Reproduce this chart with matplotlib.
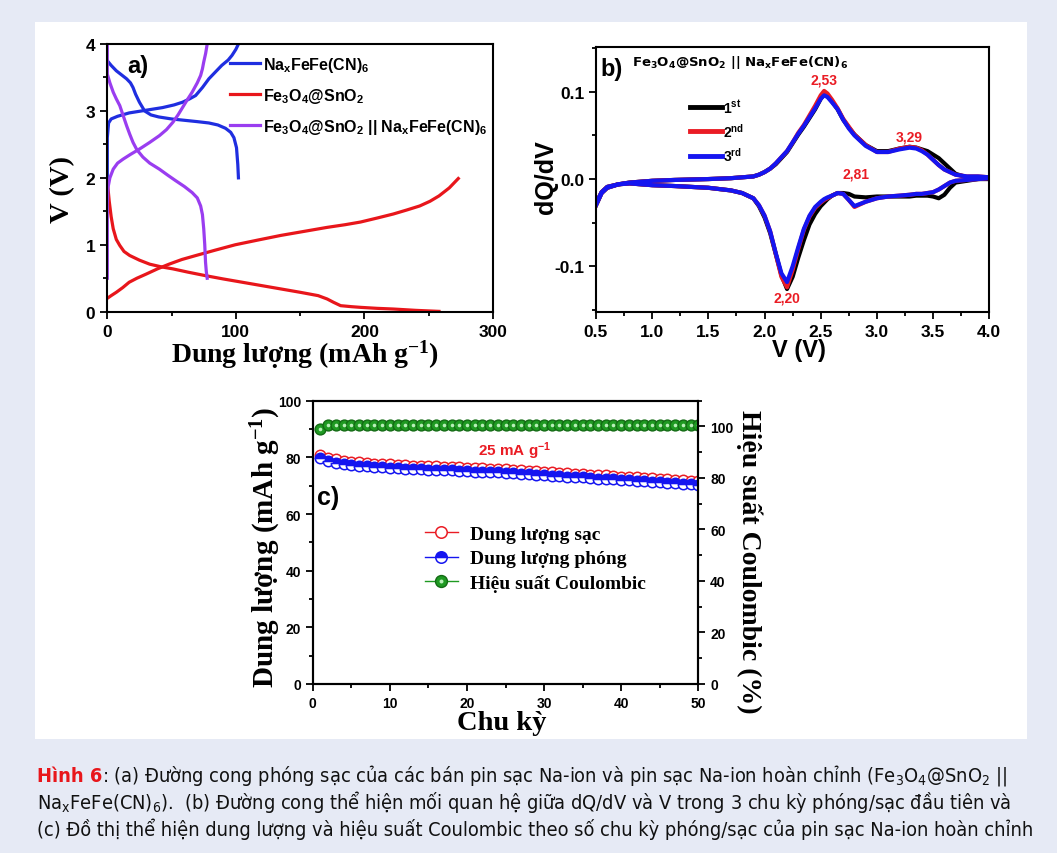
import numpy as np
import matplotlib
matplotlib.use('Agg')
import matplotlib.pyplot as plt
from matplotlib import font_manager as fm
from matplotlib.ft2font import FT2Font
from matplotlib.patches import Rectangle
from matplotlib.ticker import MultipleLocator, FormatStrFormatter
from matplotlib.legend_handler import HandlerTuple

# ---------------- data: panel a (capacity mAh/g, voltage V) ----------------
nafe_ch_cap = [0, 0, 1, 3, 8, 17, 30, 43, 52, 58.5, 64, 68.7, 74, 79, 84, 89, 94, 97, 100, 102]
nafe_ch_v = [2.0, 2.6, 2.82, 2.88, 2.92, 2.97, 3.01, 3.05, 3.09, 3.13, 3.18, 3.23, 3.35, 3.48, 3.58, 3.68, 3.76, 3.83, 3.92, 4.0]
nafe_dis_cap = [0, 3, 7, 11, 15, 18, 20, 22, 25, 29, 34, 40, 50, 60, 70, 79, 86, 92, 96, 98.5, 100.5, 101.5, 102]
nafe_dis_v = [3.75, 3.68, 3.6, 3.54, 3.48, 3.42, 3.35, 3.25, 3.13, 3.0, 2.94, 2.91, 2.88, 2.86, 2.84, 2.82, 2.79, 2.74, 2.68, 2.6, 2.45, 2.2, 2.0]

fe_dis_cap = [0.5, 1.5, 3, 4.6, 7, 9.7, 13, 17.4, 25, 33, 42, 51, 63, 76, 90, 105, 120, 135, 150, 164, 171, 176, 181.5, 190, 197, 210, 222.5, 240, 258]
fe_dis_v = [1.85, 1.65, 1.42, 1.24, 1.08, 0.99, 0.9, 0.84, 0.77, 0.71, 0.67, 0.64, 0.59, 0.54, 0.49, 0.44, 0.39, 0.34, 0.29, 0.24, 0.19, 0.14, 0.09, 0.075, 0.065, 0.05, 0.04, 0.02, 0.005]
fe_ch_cap = [0, 3, 7, 12, 17, 23, 30, 39, 48, 58, 69, 84, 99.5, 117, 135, 153, 171, 185, 197, 210, 222.5, 233, 243, 251, 258, 266, 273]
fe_ch_v = [0.2, 0.24, 0.29, 0.36, 0.44, 0.5, 0.56, 0.64, 0.71, 0.78, 0.84, 0.92, 1.0, 1.07, 1.14, 1.2, 1.26, 1.3, 1.34, 1.4, 1.46, 1.52, 1.58, 1.65, 1.73, 1.85, 1.99]

fc_ch_cap = [0, 0, 0.5, 2, 4.6, 8, 12.3, 18, 25, 33, 40.5, 46, 51, 55, 58.5, 62, 66, 70, 72.6, 74, 75, 76.5, 77.7]
fc_ch_v = [0.5, 1.6, 1.85, 2.0, 2.13, 2.22, 2.28, 2.35, 2.43, 2.53, 2.63, 2.72, 2.83, 2.94, 3.05, 3.16, 3.28, 3.42, 3.53, 3.63, 3.73, 3.86, 4.0]
fc_dis_cap = [0, 0, 2, 4.6, 7, 9.7, 12, 15, 17.5, 20, 23, 27.7, 33, 40.5, 47, 53, 60, 66, 70, 72.6, 74, 75, 75.8, 76.4, 77, 77.7]
fc_dis_v = [4.0, 3.55, 3.42, 3.28, 3.18, 3.08, 2.95, 2.78, 2.65, 2.53, 2.42, 2.31, 2.22, 2.13, 2.04, 1.96, 1.87, 1.78, 1.7, 1.58, 1.45, 1.24, 1.0, 0.74, 0.6, 0.5]

legend_a = ['Na$_x$FeFe(CN)$_6$', 'Fe$_3$O$_4$@SnO$_2$', 'Fe$_3$O$_4$@SnO$_2$ || Na$_x$FeFe(CN)$_6$']

# ---------------- data: panel b (dQ/dV vs V) ----------------
v_grid = [0.5, 0.55, 0.6, 0.7, 0.8, 1.0, 1.2, 1.5, 1.7, 1.8, 1.9, 1.95, 2.0, 2.05, 2.1, 2.15, 2.2, 2.25,
          2.3, 2.35, 2.4, 2.45, 2.5, 2.53, 2.56, 2.6, 2.65, 2.7, 2.75, 2.8, 2.9, 3.0, 3.1, 3.2, 3.29,
          3.35, 3.4, 3.45, 3.5, 3.55, 3.6, 3.65, 3.7, 3.8, 3.9, 4.0]
up_1 = [-0.028, -0.015, -0.009, -0.006, -0.004, -0.002, -0.001, 0.0, 0.001, 0.002, 0.003, 0.005, 0.008, 0.012,
        0.017, 0.024, 0.031, 0.041, 0.051, 0.060, 0.070, 0.080, 0.092, 0.097, 0.095, 0.089, 0.080, 0.068,
        0.059, 0.051, 0.039, 0.032, 0.032, 0.035, 0.037, 0.036, 0.034, 0.032, 0.028, 0.024, 0.018, 0.012,
        0.006, 0.002, 0.002, 0.002]
up_2 = [-0.028, -0.015, -0.009, -0.006, -0.004, -0.002, -0.001, 0.0, 0.001, 0.002, 0.003, 0.005, 0.008, 0.012,
        0.018, 0.025, 0.032, 0.042, 0.053, 0.062, 0.073, 0.084, 0.096, 0.101, 0.098, 0.091, 0.081, 0.069,
        0.060, 0.051, 0.039, 0.031, 0.031, 0.035, 0.037, 0.036, 0.033, 0.028, 0.022, 0.016, 0.011, 0.008,
        0.005, 0.003, 0.003, 0.002]
up_3 = [-0.028, -0.015, -0.009, -0.006, -0.004, -0.002, -0.001, 0.0, 0.001, 0.002, 0.003, 0.005, 0.008, 0.012,
        0.018, 0.025, 0.032, 0.042, 0.052, 0.061, 0.071, 0.081, 0.092, 0.096, 0.094, 0.088, 0.080, 0.068,
        0.058, 0.050, 0.038, 0.031, 0.031, 0.034, 0.036, 0.035, 0.032, 0.028, 0.022, 0.016, 0.011, 0.008,
        0.005, 0.003, 0.003, 0.002]
dn_1 = [-0.030, -0.016, -0.010, -0.006, -0.005, -0.007, -0.008, -0.010, -0.013, -0.016, -0.022, -0.031, -0.044,
        -0.062, -0.086, -0.110, -0.126, -0.112, -0.090, -0.070, -0.052, -0.040, -0.031, -0.027, -0.023,
        -0.019, -0.016, -0.016, -0.017, -0.020, -0.021, -0.020, -0.020, -0.020, -0.020, -0.019, -0.019,
        -0.019, -0.020, -0.022, -0.018, -0.010, -0.004, -0.002, 0.0, 0.0]
dn_2 = [-0.030, -0.016, -0.010, -0.006, -0.005, -0.007, -0.008, -0.010, -0.013, -0.016, -0.022, -0.030, -0.042,
        -0.060, -0.086, -0.112, -0.124, -0.104, -0.080, -0.058, -0.043, -0.033, -0.027, -0.024, -0.022,
        -0.019, -0.016, -0.017, -0.024, -0.032, -0.026, -0.022, -0.020, -0.019, -0.018, -0.017, -0.017,
        -0.016, -0.015, -0.012, -0.008, -0.004, -0.002, -0.001, 0.0, 0.001]
dn_3 = [-0.030, -0.016, -0.010, -0.006, -0.005, -0.007, -0.008, -0.010, -0.013, -0.016, -0.022, -0.030, -0.042,
        -0.060, -0.085, -0.108, -0.118, -0.100, -0.078, -0.057, -0.042, -0.032, -0.026, -0.023, -0.021,
        -0.019, -0.016, -0.017, -0.024, -0.031, -0.026, -0.022, -0.020, -0.019, -0.018, -0.017, -0.017,
        -0.016, -0.015, -0.012, -0.008, -0.004, -0.002, -0.001, 0.0, 0.001]
legend_b = ['1$^{st}$', '2$^{nd}$', '3$^{rd}$']
peak_v = [2.53, 3.29, 2.81, 2.20]
peak_y = [0.114, 0.049, 0.006, -0.136]
peak_txt = ['2,53', '3,29', '2,81', '2,20']

# ---------------- data: panel c (cycling) ----------------
cycles = list(range(1, 51))
discharge = [79.6, 78.7, 78.1, 77.6, 77.3, 77.0, 76.8, 76.6, 76.5, 76.3, 76.2, 76.0, 75.9, 75.8, 75.7,
             75.6, 75.5, 75.4, 75.3, 75.2, 75.0, 74.9, 74.8, 74.7, 74.6, 74.4, 74.3, 74.1, 73.9, 73.7,
             73.5, 73.4, 73.2, 73.0, 72.9, 72.7, 72.5, 72.4, 72.2, 72.0, 71.9, 71.7, 71.6, 71.4, 71.2,
             71.1, 70.9, 70.7, 70.5, 70.4]
charge = [80.8, 79.9, 79.3, 78.8, 78.5, 78.2, 78.0, 77.8, 77.7, 77.5, 77.4, 77.2, 77.1, 77.0, 76.9,
          76.8, 76.7, 76.6, 76.5, 76.4, 76.2, 76.1, 76.0, 75.9, 75.8, 75.6, 75.5, 75.3, 75.1, 74.9,
          74.7, 74.6, 74.4, 74.2, 74.1, 73.9, 73.7, 73.6, 73.4, 73.2, 73.1, 72.9, 72.8, 72.6, 72.4,
          72.3, 72.1, 71.9, 71.7, 71.6]
coulombic = [99.2, 100.6, 100.4, 100.5, 100.6, 100.5, 100.4, 100.6, 100.5, 100.6, 100.5, 100.4, 100.6,
             100.7, 100.5, 100.4, 100.5, 100.6, 100.5, 100.4, 100.5, 100.6, 100.5, 100.4, 100.6, 100.5,
             100.5, 100.6, 100.4, 100.5, 100.6, 100.5, 100.4, 100.5, 100.6, 100.5, 100.4, 100.5, 100.6,
             100.5, 100.4, 100.5, 100.6, 100.5, 100.4, 100.5, 100.6, 100.5, 100.4, 100.5]
legend_c = ['Dung lượng sạc', 'Dung lượng phóng', 'Hiệu suất Coulombic']

caption_l1a = 'Hình 6'
caption_l1b = ': (a) Đường cong phóng sạc của các bán pin sạc Na-ion và pin sạc Na-ion hoàn chỉnh (Fe$_3$O$_4$@SnO$_2$ ||'
caption_l2 = 'Na$_x$FeFe(CN)$_6$).  (b) Đường cong thể hiện mối quan hệ giữa dQ/dV và V trong 3 chu kỳ phóng/sạc đầu tiên và'
caption_l3 = '(c) Đồ thị thể hiện dung lượng và hiệu suất Coulombic theo số chu kỳ phóng/sạc của pin sạc Na-ion hoàn chỉnh'

# ---------------- style ----------------
plt.rcParams['font.family'] = ['Liberation Sans', 'DejaVu Sans']
plt.rcParams['font.weight'] = 'bold'
plt.rcParams['mathtext.default'] = 'regular'
plt.rcParams['axes.unicode_minus'] = False

BLUE_A = '#1f2ee0'
RED_A = '#e8161b'
PURPLE_A = '#9a3df0'
BLUE = '#1515f0'
RED = '#ea1c24'
GREEN = '#1f9a22'
SERIF = ['Liberation Serif', 'DejaVu Serif']

W, H = 1057, 854
fig = plt.figure(figsize=(W / 100, H / 100), dpi=100, facecolor='#E6EAF5')

# background axes in pixel coords (for white panel and caption)
bg = fig.add_axes([0, 0, 1, 1], zorder=-1)
bg.set_xlim(0, W)
bg.set_ylim(H, 0)
bg.axis('off')
bg.add_patch(Rectangle((35, 23), 992, 717, facecolor='white', edgecolor='none'))


def axes_px(l, t, r, b):
    return fig.add_axes([l / W, 1 - b / H, (r - l) / W, (b - t) / H])


def style(ax, size):
    for s in ax.spines.values():
        s.set_linewidth(1.5)
    ax.tick_params(which='both', direction='out', width=1.3, labelsize=size,
                   top=False, right=False)
    ax.tick_params(which='major', length=5)
    ax.tick_params(which='minor', length=3)


# ================= panel a =================
axA = axes_px(107.3, 45, 493, 312.7)
axA.plot(nafe_ch_cap, nafe_ch_v, color=BLUE_A, lw=2.3, label=legend_a[0])
axA.plot(nafe_dis_cap, nafe_dis_v, color=BLUE_A, lw=2.3)
axA.plot(fe_dis_cap, fe_dis_v, color=RED_A, lw=2.3, label=legend_a[1])
axA.plot(fe_ch_cap, fe_ch_v, color=RED_A, lw=2.3)
axA.plot(fc_ch_cap, fc_ch_v, color=PURPLE_A, lw=2.3, label=legend_a[2])
axA.plot(fc_dis_cap, fc_dis_v, color=PURPLE_A, lw=2.3)
axA.set_xlim(0, 300)
axA.set_ylim(0, 4)
axA.xaxis.set_major_locator(MultipleLocator(100))
axA.xaxis.set_minor_locator(MultipleLocator(50))
axA.yaxis.set_major_locator(MultipleLocator(1))
axA.yaxis.set_minor_locator(MultipleLocator(0.5))
style(axA, 12.5)
axA.set_xlabel('Dung lượng (mAh g$^{-1}$)', family=SERIF, fontsize=20, fontweight='bold')
axA.set_ylabel('V (V)', family=SERIF, fontsize=20.5, fontweight='bold')
axA.xaxis.label.set_va('center')
axA.yaxis.label.set_va('center')
axA.xaxis.set_label_coords(0.513, -0.158)
axA.yaxis.set_label_coords(-0.117, 0.46)
axA.text(15.3, 3.68, 'a)', fontsize=17, fontweight='bold', ha='left', va='center')
axA.legend(loc='upper left', bbox_to_anchor=(0.318, 0.96), frameon=False,
           prop={'family': ['Liberation Sans', 'DejaVu Sans'], 'weight': 'bold', 'size': 11.5},
           handlelength=1.9, handletextpad=0.2, labelspacing=0.75, borderpad=0, borderaxespad=0)

# ================= panel b =================
axB = axes_px(596, 48.3, 989.3, 312.7)
axB.plot(v_grid, up_1, color='black', lw=3)
axB.plot(v_grid, dn_1, color='black', lw=3)
axB.plot(v_grid, up_2, color=RED, lw=3)
axB.plot(v_grid, dn_2, color=RED, lw=3)
axB.plot(v_grid, up_3, color=BLUE, lw=3)
axB.plot(v_grid, dn_3, color=BLUE, lw=3)
axB.set_xlim(0.5, 4.0)
axB.set_ylim(-0.152, 0.151)
axB.xaxis.set_major_locator(MultipleLocator(0.5))
axB.xaxis.set_minor_locator(MultipleLocator(0.25))
axB.yaxis.set_major_locator(MultipleLocator(0.1))
axB.yaxis.set_minor_locator(MultipleLocator(0.05))
axB.xaxis.set_major_formatter(FormatStrFormatter('%.1f'))
axB.yaxis.set_major_formatter(FormatStrFormatter('%.1f'))
style(axB, 12.5)
axB.set_xlabel('V (V)', fontsize=17, fontweight='bold')
axB.set_ylabel('dQ/dV', fontsize=18, fontweight='bold')
axB.xaxis.label.set_va('center')
axB.yaxis.label.set_va('center')
axB.xaxis.set_label_coords(0.516, -0.143)
axB.yaxis.set_label_coords(-0.127, 0.513)
axB.text(0.536, 0.127, 'b)', fontsize=17, fontweight='bold', ha='left', va='center')
axB.text(0.82, 0.131, 'Fe$_3$O$_4$@SnO$_2$ || Na$_x$FeFe(CN)$_6$', family=['DejaVu Sans'],
         fontsize=9.5, fontweight='bold', ha='left', va='baseline')
for vx, vy, t in zip(peak_v, peak_y, peak_txt):
    axB.text(vx, vy, t, color=RED, fontsize=10, fontweight='bold', ha='center', va='center')
hb = [plt.Line2D([], [], color=c, lw=3.5) for c in ('black', RED, BLUE)]
axB.legend(hb, legend_b, loc='upper left', bbox_to_anchor=(0.239, 0.81), frameon=False,
           prop={'weight': 'bold', 'size': 10}, handlelength=2.3, handletextpad=0.1,
           labelspacing=0.45, borderpad=0, borderaxespad=0)

# ================= panel c =================
axC = axes_px(312.7, 401.7, 698.3, 685)
l_ch, = axC.plot(cycles, charge, 'o-', color=RED, mfc='white', mec=RED, ms=7.5, mew=1.1, lw=1)
l_dis, = axC.plot(cycles, discharge, 'o-', color=BLUE, fillstyle='top', mfc=BLUE,
                  markerfacecoloralt='white', mec=BLUE, ms=7.5, mew=1.1, lw=1)
axC.set_xlim(0, 50)
axC.set_ylim(0, 100)
axC.xaxis.set_major_locator(MultipleLocator(10))
axC.xaxis.set_minor_locator(MultipleLocator(5))
axC.yaxis.set_major_locator(MultipleLocator(20))
axC.yaxis.set_minor_locator(MultipleLocator(10))
style(axC, 10)
axR = axC.twinx()
l_ce, = axR.plot(cycles, coulombic, 'o-', color=GREEN, mfc=GREEN, mec='#136b14', ms=7.8, mew=1, lw=1)
l_hi, = axR.plot(cycles, coulombic, 'o', ls='none', color='#b9efb9', ms=2.6, mew=0)
axR.set_ylim(0, 110)
axR.yaxis.set_major_locator(MultipleLocator(20))
axR.yaxis.set_minor_locator(MultipleLocator(10))
for s in axR.spines.values():
    s.set_linewidth(1.5)
axR.tick_params(which='both', direction='out', width=1.3, labelsize=10)
axR.tick_params(which='major', length=5)
axR.tick_params(which='minor', length=3)

axC.set_xlabel('Chu kỳ', family=SERIF, fontsize=20.5, fontweight='bold')
axC.set_ylabel('Dung lượng (mAh g$^{-1}$)', family=SERIF, fontsize=21, fontweight='bold')
axR.set_ylabel('Hiệu suất Coulombic (%)', family=SERIF, fontsize=20, fontweight='bold', rotation=270)
for lab in (axC.xaxis.label, axC.yaxis.label, axR.yaxis.label):
    lab.set_va('center')
axC.xaxis.set_label_coords(0.49, -0.135)
axC.yaxis.set_label_coords(-0.121, 0.487)
axR.yaxis.set_label_coords(1.132, 0.435)
axC.text(21.4, 82.4, '25 mA g$^{-1}$', color=RED, fontsize=11, fontweight='bold', ha='left', va='center')
axC.text(0.55, 66.1, 'c)', fontsize=18, fontweight='bold', ha='left', va='center')
axR.legend([l_ch, l_dis, (l_ce, l_hi)], legend_c, loc='upper left', bbox_to_anchor=(0.291, 0.56),
           frameon=False, prop={'family': SERIF, 'weight': 'bold', 'size': 14}, numpoints=1,
           handlelength=1.7, handletextpad=0.6, labelspacing=0.35, borderpad=0, borderaxespad=0,
           markerscale=1.1, handler_map={tuple: HandlerTuple(ndivide=1)})

# ================= caption =================
cap_strings = [caption_l1a, caption_l1b, caption_l2, caption_l3]
need = set(''.join(cap_strings)) - set(' $_{}^')


def covers(path):
    try:
        f = FT2Font(path)
        return all(f.get_char_index(ord(c)) != 0 for c in need)
    except Exception:
        return False


def cond_fonts(bold):
    out = []
    for f in fm.fontManager.ttflist:
        nm = f.name.lower()
        st = str(f.stretch).lower()
        if not ('narrow' in nm or 'condensed' in nm or 'condensed' in st or 'narrow' in st):
            continue
        if f.style != 'normal':
            continue
        try:
            w = int(f.weight)
        except Exception:
            w = 700 if 'bold' in str(f.weight) else 400
        if bold and 600 <= w <= 800:
            out.append((abs(w - 700), f))
        if not bold and 350 <= w <= 500:
            out.append((abs(w - 400), f))
    out.sort(key=lambda t: t[0])
    return [f for _, f in out if covers(f.fname)]


reg = cond_fonts(False)
if reg:
    cap_reg = fm.FontProperties(fname=reg[0].fname, size=12)
    bolds = [f for f in cond_fonts(True) if f.name == reg[0].name]
    cap_bold = fm.FontProperties(fname=bolds[0].fname, size=12) if bolds else cap_reg.copy()
else:
    cap_reg = fm.FontProperties(family=['Liberation Sans', 'DejaVu Sans'], weight='normal', size=12)
    cap_bold = fm.FontProperties(family=['Liberation Sans', 'DejaVu Sans'], weight='bold', size=12)

x0 = 37
base = [782, 809.5, 836.5]
t1a = bg.text(x0, base[0], caption_l1a, fontproperties=cap_bold, color=RED_A, va='baseline', ha='left')
t1b = bg.annotate(caption_l1b, xy=(1, base[0]), xycoords=(t1a, 'data'), va='baseline', ha='left',
                  fontproperties=cap_reg, color='#111111', annotation_clip=False)
t2 = bg.text(x0, base[1], caption_l2, fontproperties=cap_reg, color='#111111', va='baseline', ha='left')
t3 = bg.text(x0, base[2], caption_l3, fontproperties=cap_reg, color='#111111', va='baseline', ha='left')

fig.canvas.draw()
r = fig.canvas.get_renderer()
targets = [1048, 1043, 1030]
ends = [t1b.get_window_extent(r).x1, t2.get_window_extent(r).x1, t3.get_window_extent(r).x1]
scale = min((tg - x0) / (e - x0) for tg, e in zip(targets, ends))
for t in (t1a, t1b, t2, t3):
    t.set_fontsize(12 * scale)

fig.savefig('out.png', dpi=100, facecolor=fig.get_facecolor())
